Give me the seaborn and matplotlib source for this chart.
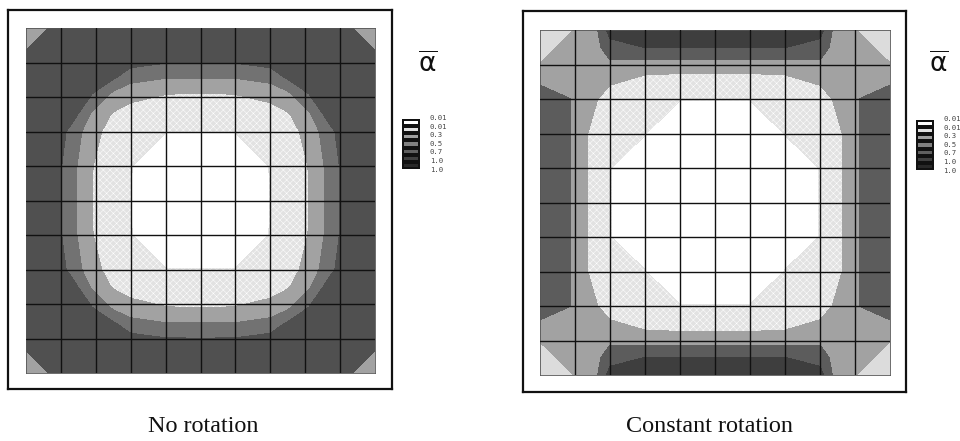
import numpy as np
import seaborn as sns
import matplotlib.pyplot as plt

sns.set_theme(style="white")
plt.rcParams['font.family'] = ['Liberation Serif', 'DejaVu Sans']

# contour field, one quarter of each panel (cell units)
left_nodes = [0, 0.7, 1, 1.45, 1.9, 2.5, 3, 4, 5]
left_field = [
    [4.6, 4.6, 4.6, 4.7, 4.7, 4.6, 4.6, 4.6, 4.6],
    [4.6, 4.7, 4.7, 4.7, 4.7, 4.5, 4.45, 4.45, 4.45],
    [4.6, 4.7, 4.7, 4.65, 4.6, 4.35, 4.3, 4.05, 4.02],
    [4.7, 4.7, 4.65, 4.6, 4.4, 4.1, 3.4, 3.02, 3.02],
    [4.7, 4.7, 4.6, 4.4, 4.0, 2.8, 2.2, 2.02, 1.98],
    [4.6, 4.5, 4.35, 4.1, 2.8, 1.9, 1.75, 1.55, 1.45],
    [4.6, 4.45, 4.3, 3.4, 2.2, 1.75, 1.5, 1.02, 1.02],
    [4.6, 4.45, 4.05, 3.02, 2.02, 1.55, 1.02, 0.5, 0.4],
    [4.6, 4.45, 4.02, 3.02, 1.98, 1.45, 1.02, 0.4, 0.2],
]
right_u = [0, 0.85, 1.35, 1.65, 2, 3, 4, 5]
right_v = [0, 0.5, 0.85, 1.25, 1.6, 2, 3, 4, 5]
right_field = [
    [2.2, 2.2, 2.6, 3.0, 4.4, 4.6, 4.6, 4.6],
    [2.2, 2.4, 2.6, 2.8, 3.6, 4.02, 4.02, 4.02],
    [2.2, 2.4, 2.5, 2.6, 3.02, 3.02, 3.02, 3.02],
    [2.4, 2.5, 2.45, 2.4, 2.3, 2.05, 2.02, 2.02],
    [3.0, 2.6, 2.35, 2.15, 2.0, 1.7, 1.5, 1.5],
    [3.6, 3.02, 2.3, 2.0, 1.7, 1.4, 1.02, 1.02],
    [3.6, 3.02, 2.02, 1.6, 1.4, 1.02, 0.5, 0.5],
    [3.6, 3.02, 2.02, 1.5, 1.02, 0.6, 0.3, 0.3],
    [3.6, 3.02, 2.02, 1.5, 1.02, 0.6, 0.3, 0.2],
]
# corner patches: the contour at 1 is the diagonal of the patch
left_corner_nodes = [0, 0.6]
right_corner_nodes = [0, 0.9]
corner_field = [[0, 1], [1, 2]]
levels = [-1, 1, 2, 3, 4, 6]
left_tones = ['#ffffff', '#e2e2e2', '#a2a2a2', '#727272', '#505050']
right_tones = ['#ffffff', '#e2e2e2', '#a2a2a2', '#5c5c5c', '#3e3e3e']
left_corner_tone = '#a2a2a2'
right_corner_tone = '#dcdcdc'
level_labels = ['0.01', '0.01', '0.3', '0.5', '0.7', '1.0', '1.0']
swatch_tones = ['#ffffff', '#e0e0e0', '#a0a0a0', '#808080', '#606060', '#404040', '#282828']
captions = ['No rotation', 'Constant rotation']


def mirror(nodes, n_max=10):
    nodes = np.array(nodes, dtype=float)
    return np.r_[nodes, n_max - nodes[-2::-1]]


def px_axes(fig, x0, y0, x1, y1):
    # pixel box measured from the top left of the picture
    return fig.add_axes([x0 / 960, 1 - y1 / 441, (x1 - x0) / 960, (y1 - y0) / 441])


def draw_panel(fig, frame, box, us, vs, field, tones, corner_nodes, corner_tone):
    fr = px_axes(fig, *frame)
    fr.set_xticks([])
    fr.set_yticks([])
    for s in fr.spines.values():
        s.set_linewidth(1.6)
        s.set_color('#111111')

    ax = px_axes(fig, *box)
    z = np.array(field)
    z = np.c_[z, z[:, -2::-1]]
    z = np.r_[z, z[-2::-1]]
    plt.rcParams['hatch.linewidth'] = 0.35
    plt.rcParams['hatch.color'] = '#8a8a8a'
    ax.contourf(mirror(us), mirror(vs), z, levels=levels, colors=tones,
                hatches=['', 'xxxxx', None, None, None])
    corner = np.array(corner_nodes, dtype=float)
    for cx in (corner, 10 - corner):
        for cy in (corner, 10 - corner):
            ax.contourf(cx, cy, corner_field, levels=[-1, 1], colors=[corner_tone])
    ax.set_xlim(0, 10)
    ax.set_ylim(10, 0)
    ax.set_xticks(range(1, 10))
    ax.set_yticks(range(1, 10))
    ax.set_xticklabels([])
    ax.set_yticklabels([])
    ax.tick_params(length=0)
    ax.set_axisbelow(False)
    ax.grid(True, color='#111111', linewidth=1.0, zorder=5)
    for s in ax.spines.values():
        s.set_linewidth(0.6)
        s.set_color('#555555')


def draw_legend(fig, sx0, sx1, sy0, lx, ly0, ax_x):
    lg = px_axes(fig, sx0, sy0, sx1, sy0 + 50)
    sns.heatmap(np.arange(7).reshape(7, 1), ax=lg, cmap=swatch_tones, cbar=False,
                linewidths=1.5, linecolor='#111111', xticklabels=False, yticklabels=False)
    for i, lab in enumerate(level_labels):
        fig.text(lx / 960, 1 - (ly0 + i * 8.6) / 441, lab, fontsize=5.2,
                 family='DejaVu Sans Mono', color='#444444', va='center')
    fig.text(ax_x / 960, 1 - 65 / 441, r'$\overline{\mathrm{\alpha}}$', fontsize=19,
             family='DejaVu Sans', color='#111111', ha='center', va='center')


fig = plt.figure(figsize=(9.6, 4.41), dpi=100)
draw_panel(fig, (8, 10, 392, 389), (26, 28, 375, 373), left_nodes, left_nodes, left_field,
           left_tones, left_corner_nodes, left_corner_tone)
draw_panel(fig, (523, 11, 906, 392), (540, 30, 890, 375), right_u, right_v, right_field,
           right_tones, right_corner_nodes, right_corner_tone)
draw_legend(fig, 402, 420, 119, 430, 118, 428)
draw_legend(fig, 916, 934, 120, 943, 119, 939)
fig.text(203 / 960, 1 - 427 / 441, captions[0], fontsize=17.4, ha='center', va='center', color='#111111')
fig.text(709 / 960, 1 - 427 / 441, captions[1], fontsize=17.4, ha='center', va='center', color='#111111')
plt.savefig('out.png', dpi=100)
plt.close()
